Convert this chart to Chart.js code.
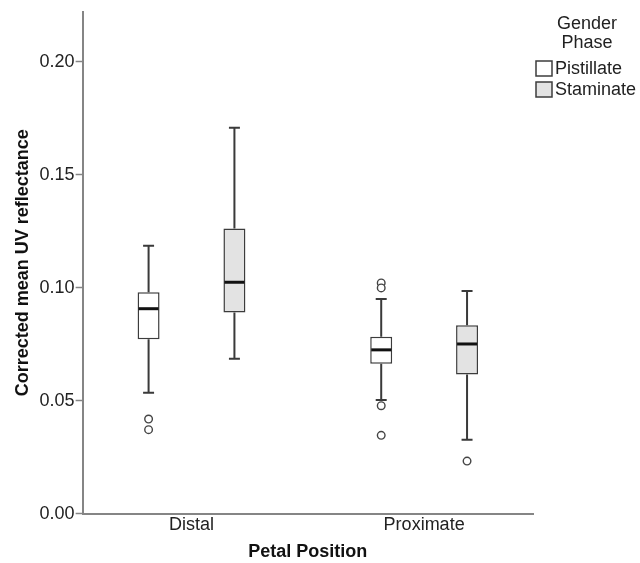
<!DOCTYPE html>
<html>
<head>
<meta charset="utf-8">
<script src="https://cdn.jsdelivr.net/npm/chart.js@4/dist/chart.umd.min.js"></script>
<style>
  html, body { margin: 0; padding: 0; background: #ffffff; }
  #wrap { width: 640px; height: 563px; }
</style>
</head>
<body>
<div id="wrap"><canvas id="c" width="640" height="563"></canvas></div>
<script>
// ---- data ----
const categories = ['Distal', 'Proximate'];
const seriesNames = ['Pistillate', 'Staminate'];
const yTickValues = [0.00, 0.05, 0.10, 0.15, 0.20];

const pistillateMin = [0.0535, 0.0503];
const pistillateQ1 = [0.0772, 0.0664];
const pistillateMedian = [0.0907, 0.0725];
const pistillateQ3 = [0.0980, 0.0783];
const pistillateMax = [0.1185, 0.0950];
const pistillateOutliers = [[0.0419, 0.0372], [0.1021, 0.0999, 0.0478, 0.0347]];

const staminateMin = [0.0686, 0.0328];
const staminateQ1 = [0.0890, 0.0616];
const staminateMedian = [0.1024, 0.0751];
const staminateQ3 = [0.1262, 0.0834];
const staminateMax = [0.1707, 0.0985];
const staminateOutliers = [[], [0.0233]];

// ---- build library structures ----
const FONT = "'Liberation Sans', Arial, sans-serif";
const stats = [
  { min: pistillateMin, q1: pistillateQ1, med: pistillateMedian, q3: pistillateQ3, max: pistillateMax, out: pistillateOutliers },
  { min: staminateMin, q1: staminateQ1, med: staminateMedian, q3: staminateQ3, max: staminateMax, out: staminateOutliers }
];
const fills = ['#ffffff', '#e3e3e3'];

const datasets = seriesNames.map((name, s) => ({
  label: name,
  data: categories.map((c, i) => ({ x: i, y: [stats[s].q1[i], stats[s].q3[i]] })),
  backgroundColor: fills[s],
  borderColor: '#3c3c3c',
  borderWidth: 1.5,
  borderSkipped: false,
  categoryPercentage: 0.738,
  barPercentage: 0.256
}));

const boxExtras = {
  id: 'boxExtras',
  afterDatasetsDraw(chart) {
    const ctx = chart.ctx;
    const ys = chart.scales.y;
    const py = v => ys.getPixelForValue(v);
    chart.data.datasets.forEach((ds, di) => {
      const meta = chart.getDatasetMeta(di);
      const st = stats[di];
      meta.data.forEach((bar, i) => {
        const x = bar.x, w = bar.width;
        ctx.save();
        // whiskers
        ctx.strokeStyle = '#3a3a3a';
        ctx.lineWidth = 2;
        ctx.beginPath();
        ctx.moveTo(x, py(st.q3[i])); ctx.lineTo(x, py(st.max[i]));
        ctx.moveTo(x - w / 4, py(st.max[i])); ctx.lineTo(x + w / 4, py(st.max[i]));
        ctx.moveTo(x, py(st.q1[i])); ctx.lineTo(x, py(st.min[i]));
        ctx.moveTo(x - w / 4, py(st.min[i])); ctx.lineTo(x + w / 4, py(st.min[i]));
        ctx.stroke();
        // median
        ctx.strokeStyle = '#111111';
        ctx.lineWidth = 3;
        ctx.beginPath();
        ctx.moveTo(x - w / 2 + 1, py(st.med[i]));
        ctx.lineTo(x + w / 2 - 1, py(st.med[i]));
        ctx.stroke();
        // outliers
        ctx.strokeStyle = '#444444';
        ctx.fillStyle = '#ffffff';
        ctx.lineWidth = 1.4;
        st.out[i].forEach(v => {
          ctx.beginPath();
          ctx.arc(x, py(v), 3.8, 0, Math.PI * 2);
          ctx.fill();
          ctx.stroke();
        });
        ctx.restore();
      });
    });
  },
  afterDraw(chart) {
    const ctx = chart.ctx;
    ctx.save();
    ctx.font = '18px ' + FONT;
    ctx.fillStyle = '#222222';
    ctx.textAlign = 'center';
    ctx.textBaseline = 'middle';
    ctx.fillText('Gender', 587, 24);
    ctx.fillText('Phase', 587, 43);
    chart.data.datasets.forEach((ds, di) => {
      const top = 61 + di * 21;
      ctx.fillStyle = ds.backgroundColor;
      ctx.strokeStyle = '#3c3c3c';
      ctx.lineWidth = 1.5;
      ctx.fillRect(536, top, 16, 15);
      ctx.strokeRect(536, top, 16, 15);
      ctx.fillStyle = '#222222';
      ctx.textAlign = 'left';
      ctx.fillText(ds.label, 555, top + 8);
    });
    ctx.restore();
  }
};

new Chart(document.getElementById('c'), {
  type: 'bar',
  data: { datasets },
  plugins: [boxExtras],
  options: {
    responsive: false,
    animation: false,
    devicePixelRatio: 1,
    layout: { padding: { top: 8, left: 10, right: 107, bottom: 0 } },
    plugins: { legend: { display: false }, tooltip: { enabled: false } },
    scales: {
      x: {
        type: 'linear',
        min: -0.468,
        max: 1.468,
        offset: false,
        afterBuildTicks: ax => { ax.ticks = categories.map((c, i) => ({ value: i })); },
        ticks: {
          callback: v => categories[v] !== undefined ? categories[v] : '',
          font: { family: FONT, size: 18 },
          color: '#222222',
          padding: 0,
          maxRotation: 0,
          autoSkip: false
        },
        grid: { display: false, drawTicks: false },
        border: { display: true, color: '#858585', width: 2 },
        title: {
          display: true, text: 'Petal Position', color: '#111111',
          font: { family: FONT, size: 18, weight: 'bold' },
          padding: { top: 6, bottom: 0 }
        }
      },
      y: {
        min: 0,
        max: 0.222,
        afterBuildTicks: ax => { ax.ticks = yTickValues.map(v => ({ value: v })); },
        ticks: {
          callback: v => Number(v).toFixed(2),
          font: { family: FONT, size: 18 },
          color: '#222222',
          padding: 1
        },
        grid: { display: true, drawOnChartArea: false, drawTicks: true, tickLength: 7, tickColor: '#858585', tickWidth: 1.5 },
        border: { display: true, color: '#858585', width: 2 },
        title: {
          display: true, text: 'Corrected mean UV reflectance', color: '#111111',
          font: { family: FONT, size: 18, weight: 'bold' },
          padding: { top: 2, bottom: 5 }
        }
      }
    }
  }
});
</script>
</body>
</html>
